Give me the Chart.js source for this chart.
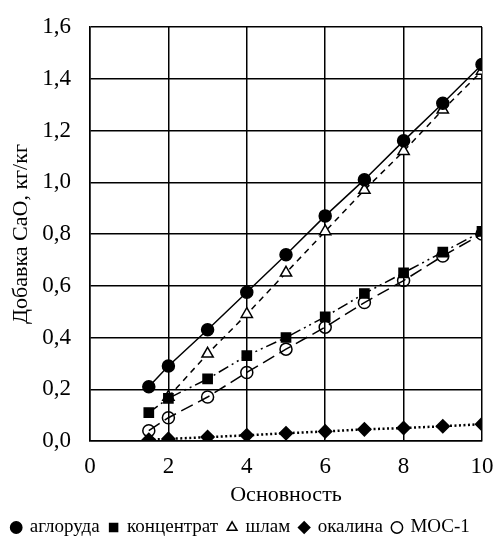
<!DOCTYPE html>
<html>
<head>
<meta charset="utf-8">
<script src="https://cdn.jsdelivr.net/npm/chart.js@4"></script>
<style>
  body { margin: 0; background: #fff; }
  #wrap { width: 501px; height: 549px; }
</style>
</head>
<body>
<div id="wrap"><canvas id="myChart" width="501" height="549"></canvas></div>
<script>
const osnovnost = [1.5, 2, 3, 4, 5, 6, 7, 8, 9, 10];
const aglo = [0.21, 0.29, 0.43, 0.575, 0.72, 0.87, 1.01, 1.16, 1.305, 1.455];
const koncentrat = [0.11, 0.165, 0.24, 0.33, 0.40, 0.48, 0.57, 0.65, 0.73, 0.81];
const shlam = [null, 0.17, 0.337, 0.49, 0.65, 0.81, 0.97, 1.12, 1.28, 1.43];
const okalina = [0.005, 0.008, 0.015, 0.022, 0.03, 0.037, 0.045, 0.05, 0.057, 0.065];
const mos1 = [0.04, 0.09, 0.17, 0.265, 0.355, 0.44, 0.535, 0.62, 0.715, 0.80];
const xTicks = [0, 2, 4, 6, 8, 10];
const yTicks = [0, 0.2, 0.4, 0.6, 0.8, 1.0, 1.2, 1.4, 1.6];

const fontFamily = '"Liberation Serif", "Times New Roman", serif';

function puntos(valores) {
    return osnovnost.map(function (x, i) {
        return { x: x, y: valores[i] };
    });
}

function serie(nombre, valores, estilo, dash, fondo, radio, ancho) {
    return {
        label: nombre,
        data: puntos(valores),
        borderColor: '#000',
        backgroundColor: fondo,
        borderWidth: ancho,
        borderDash: dash,
        pointStyle: estilo,
        pointRadius: radio,
        pointHoverRadius: radio,
        pointBackgroundColor: fondo,
        pointBorderColor: '#000',
        pointBorderWidth: 1.5,
        tension: 0,
        spanGaps: false
    };
}

const datasets = [
    serie('аглоруда', aglo, 'circle', [], '#000', 6, 1.5),
    serie('концентрат', koncentrat, 'rect', [11, 4, 2, 4, 2, 4], '#000', 6.5, 1.5),
    serie('шлам', shlam, 'triangle', [6, 5], '#fff', 6.5, 1.5),
    serie('окалина', okalina, 'rectRot', [2, 2.5], '#000', 6.5, 2.5),
    serie('МОС-1', mos1, 'circle', [13, 6], 'rgba(0,0,0,0)', 6, 1.5)
];

const config = {
    type: 'line',
    data: { datasets: datasets },
    options: {
        responsive: false,
        animation: false,
        layout: { padding: { top: 27, right: 19, left: 0, bottom: 2 } },
        plugins: {
            legend: {
                position: 'bottom',
                labels: {
                    usePointStyle: true,
                    boxWidth: 8,
                    boxHeight: 8,
                    padding: 10,
                    color: '#000',
                    font: { family: fontFamily, size: 19 }
                }
            },
            tooltip: { enabled: false }
        },
        scales: {
            x: {
                type: 'linear',
                min: 0,
                max: 10,
                afterBuildTicks: function (axis) {
                    axis.ticks = xTicks.map(function (v) { return { value: v }; });
                },
                afterFit: function (axis) { axis.height = 67; },
                grid: { color: '#000', lineWidth: 1.5, tickLength: 9, tickColor: 'rgba(0,0,0,0)' },
                border: { color: '#000', width: 1.5 },
                ticks: {
                    padding: 3,
                    color: '#000',
                    font: { family: fontFamily, size: 23 }
                },
                title: {
                    display: true,
                    text: 'Основность',
                    color: '#000',
                    padding: { top: 4, bottom: 0 },
                    font: { family: fontFamily, size: 22 }
                }
            },
            y: {
                min: 0,
                max: 1.6,
                afterBuildTicks: function (axis) {
                    axis.ticks = yTicks.map(function (v) { return { value: v }; });
                },
                afterFit: function (axis) { axis.width = 90; },
                grid: { color: '#000', lineWidth: 1.5, tickLength: 16, tickColor: 'rgba(0,0,0,0)' },
                border: { color: '#000', width: 1.5 },
                ticks: {
                    padding: 3,
                    color: '#000',
                    font: { family: fontFamily, size: 23 },
                    callback: function (v) { return v.toFixed(1).replace('.', ','); }
                },
                title: {
                    display: true,
                    text: 'Добавка CaO, кг/кг',
                    color: '#000',
                    padding: { top: 8, bottom: 0 },
                    font: { family: fontFamily, size: 22 }
                }
            }
        }
    }
};

const myChart = new Chart(document.getElementById('myChart'), config);
</script>
</body>
</html>
